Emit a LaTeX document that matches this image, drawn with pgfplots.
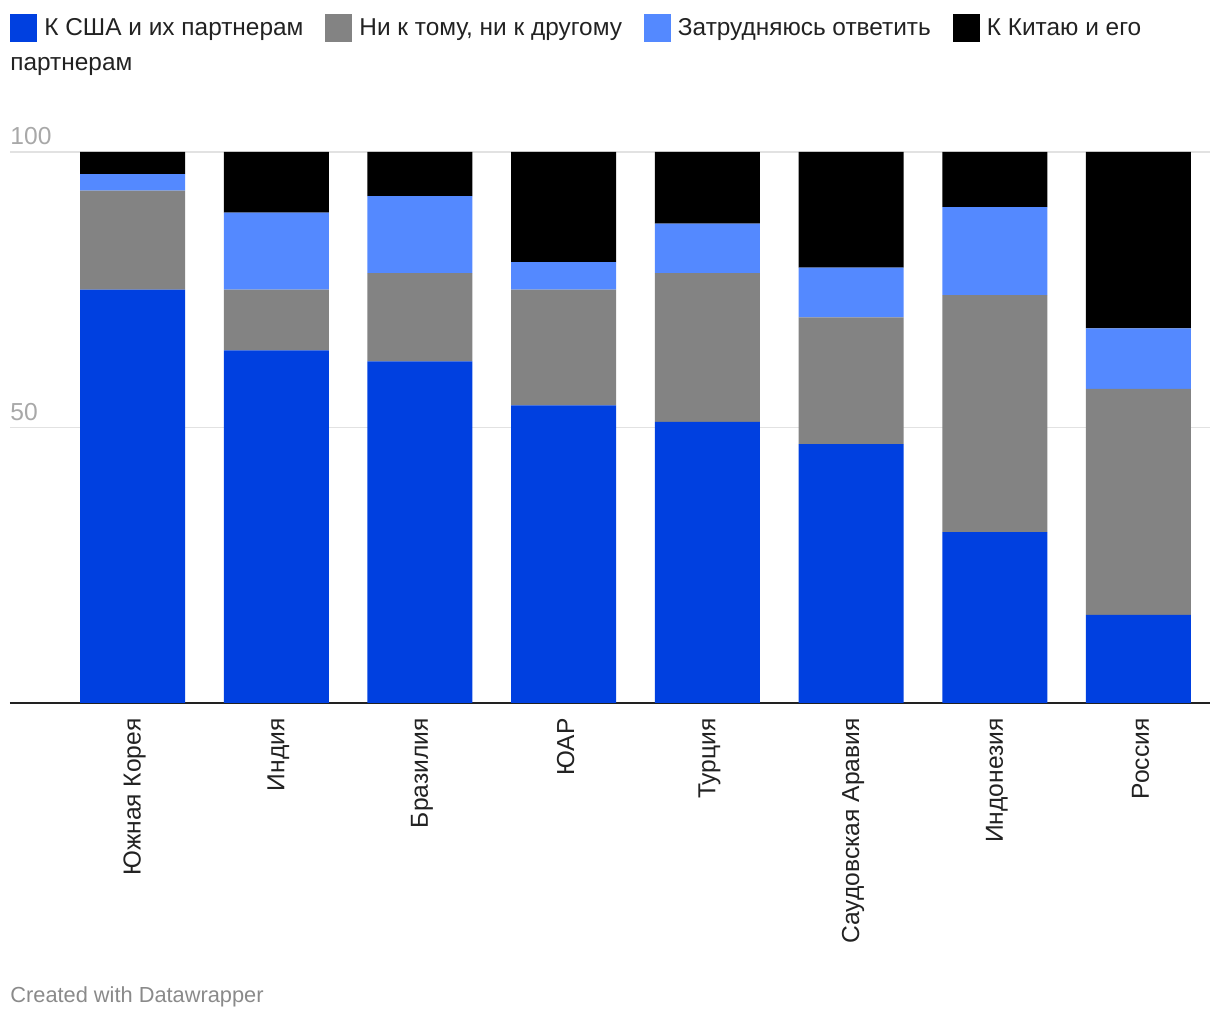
\documentclass[border=0pt]{standalone}
\usepackage{fontspec}
\setmainfont{Liberation Sans}
\usepackage{pgfplots}
\pgfplotsset{compat=1.18}

\definecolor{usblue}{HTML}{0040E0}
\definecolor{neither}{HTML}{838383}
\definecolor{unsure}{HTML}{5489FF}
\definecolor{china}{HTML}{000000}
\definecolor{ticklbl}{HTML}{A8A8A8}
\definecolor{gridc}{HTML}{E2E2E2}
\definecolor{credit}{HTML}{8A8A8A}
\definecolor{txt}{HTML}{222222}

\newcommand{\lbl}{\fontsize{12.2}{15}\selectfont}
\newcommand{\xlbl}{\fontsize{12.3}{15}\selectfont}

\begin{document}
\begin{tikzpicture}
\begin{axis}[
    name=ax,
    scale only axis,
    width=600pt, height=275.5pt,
    ybar stacked,
    bar width=52.5pt,
    xmin=-0.853, xmax=7.498,
    ymin=0, ymax=100,
    xtick={0,...,7},
    xticklabels={Южная Корея, Индия, Бразилия, ЮАР, Турция,
                 Саудовская Аравия, Индонезия, Россия},
    ytick={50,100},
    ymajorgrids=true,
    grid style={gridc, line width=0.75pt},
    axis x line*=bottom,
    axis y line*=left,
    y axis line style={draw=none},
    x axis line style={-, line width=1.2pt, txt},
    major tick length=0pt,
    tick style={draw=none},
    /pgf/number format/assume math mode=true,
    xticklabel style={rotate=90, anchor=east, inner sep=0pt,
                      font=\xlbl, text=txt, xshift=-7.5pt, yshift=-1pt},
    yticklabel style={anchor=base west, inner sep=0pt,
                      font=\xlbl, text=ticklbl, yshift=3.5pt},
    legend image code/.code={\fill[#1] (0pt,-7pt) rectangle (13.5pt,7pt);},
    legend cell align=left,
    legend style={
        at={(0,1)}, anchor=north west, yshift=69pt,
        draw=none, fill=none, inner sep=0pt,
        legend columns=4,
        font=\lbl, text=txt,
        nodes={inner sep=0pt},
        /tikz/every odd column/.append style={column sep=3.5pt},
        /tikz/every even column/.append style={column sep=11pt},
    },
]

% К США и их партнерам
\addplot[fill=usblue, draw=none] coordinates {
    (0,75) (1,64) (2,62) (3,54) (4,51) (5,47) (6,31) (7,16)
};
\addlegendentry{К США и их партнерам}

% Ни к тому, ни к другому
\addplot[fill=neither, draw=none] coordinates {
    (0,18) (1,11) (2,16) (3,21) (4,27) (5,23) (6,43) (7,41)
};
\addlegendentry{Ни к тому, ни к другому}

% Затрудняюсь ответить
\addplot[fill=unsure, draw=none] coordinates {
    (0,3) (1,14) (2,14) (3,5) (4,9) (5,9) (6,16) (7,11)
};
\addlegendentry{Затрудняюсь ответить}

% К Китаю и его партнерам
\addplot[fill=china, draw=none] coordinates {
    (0,4) (1,11) (2,8) (3,20) (4,13) (5,21) (6,10) (7,32)
};
\addlegendentry{К Китаю и его}

\end{axis}

% second line of the wrapped legend entry
\node[anchor=base west, inner sep=0pt, font=\lbl, text=txt]
    at ([yshift=40.5pt]ax.north west) {партнерам};

\node[anchor=west, inner sep=0pt, font=\fontsize{10.9}{13}\selectfont, text=credit]
    at ([yshift=-147pt]ax.south west) {Created with Datawrapper};

% page size
\path ([xshift=-5pt,yshift=-158.5pt]ax.south west)
    rectangle ([xshift=5pt,yshift=76pt]ax.north east);
\end{tikzpicture}
\end{document}
